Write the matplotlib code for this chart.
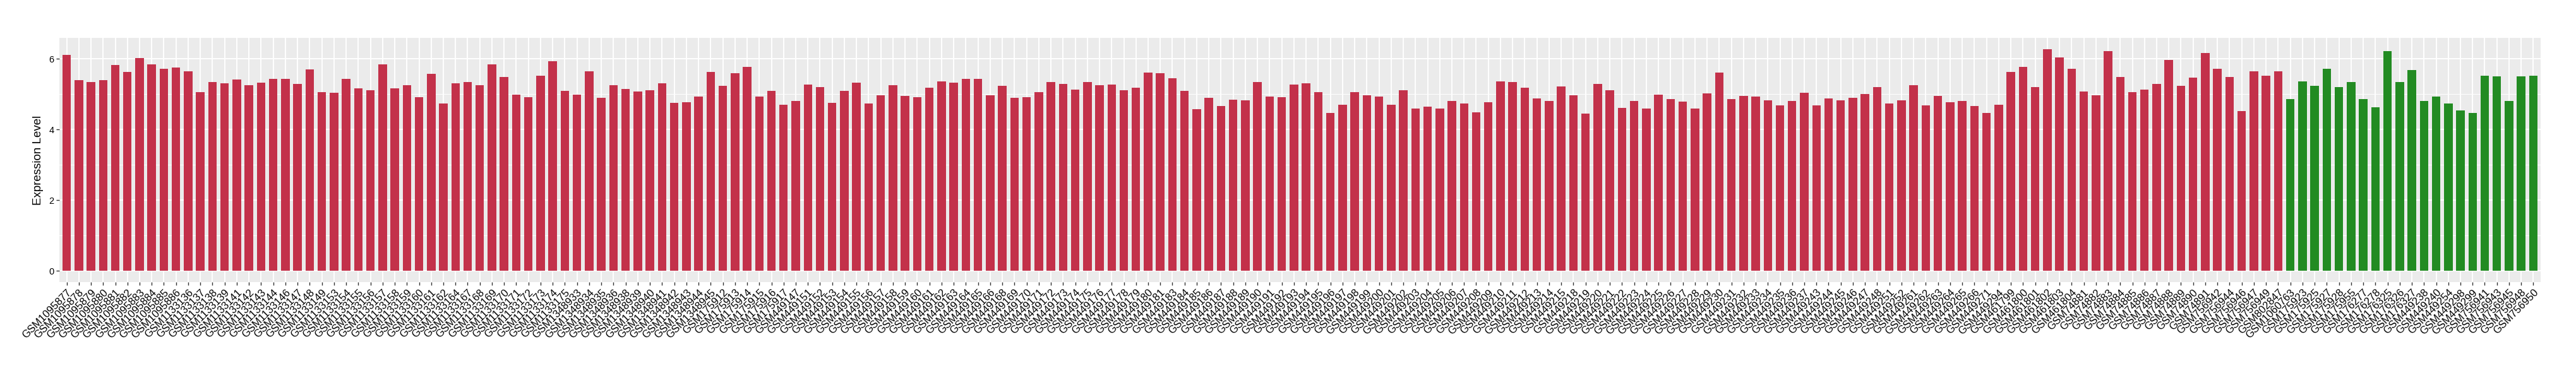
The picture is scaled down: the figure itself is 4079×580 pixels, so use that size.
import matplotlib
matplotlib.use('Agg')
import matplotlib.pyplot as plt
import numpy as np

# muestras del primer grupo (rojo)
muestras_rojo = [
    'GSM1095877', 'GSM1095878', 'GSM1095879', 'GSM1095880', 'GSM1095881', 'GSM1095882', 'GSM1095883',
    'GSM1095884', 'GSM1095885', 'GSM1095886',
    'GSM1133136', 'GSM1133137', 'GSM1133138', 'GSM1133139', 'GSM1133141', 'GSM1133142', 'GSM1133143',
    'GSM1133144', 'GSM1133146', 'GSM1133147', 'GSM1133148', 'GSM1133149', 'GSM1133153', 'GSM1133154',
    'GSM1133155', 'GSM1133156', 'GSM1133157', 'GSM1133158', 'GSM1133159', 'GSM1133160', 'GSM1133161',
    'GSM1133162', 'GSM1133164', 'GSM1133167', 'GSM1133168', 'GSM1133169', 'GSM1133170', 'GSM1133171',
    'GSM1133172', 'GSM1133173', 'GSM1133174', 'GSM1133175',
    'GSM1348933', 'GSM1348934', 'GSM1348935', 'GSM1348936', 'GSM1348938', 'GSM1348939', 'GSM1348940',
    'GSM1348941', 'GSM1348942', 'GSM1348943', 'GSM1348944', 'GSM1348945',
    'GSM175912', 'GSM175913', 'GSM175914', 'GSM175915', 'GSM175916', 'GSM175917',
    'GSM449147', 'GSM449151', 'GSM449152', 'GSM449153', 'GSM449154', 'GSM449155', 'GSM449156',
    'GSM449157', 'GSM449158', 'GSM449159', 'GSM449160', 'GSM449161', 'GSM449162', 'GSM449163',
    'GSM449164', 'GSM449165', 'GSM449166', 'GSM449168', 'GSM449169', 'GSM449170', 'GSM449171',
    'GSM449172', 'GSM449173', 'GSM449174', 'GSM449175', 'GSM449176', 'GSM449177', 'GSM449178',
    'GSM449179', 'GSM449180', 'GSM449181', 'GSM449183', 'GSM449184', 'GSM449185', 'GSM449186',
    'GSM449187', 'GSM449188', 'GSM449189', 'GSM449190', 'GSM449191', 'GSM449192', 'GSM449193',
    'GSM449194', 'GSM449195', 'GSM449196', 'GSM449197', 'GSM449198', 'GSM449199', 'GSM449200',
    'GSM449201', 'GSM449202', 'GSM449203', 'GSM449204', 'GSM449205', 'GSM449206', 'GSM449207',
    'GSM449208', 'GSM449209', 'GSM449210', 'GSM449211', 'GSM449212', 'GSM449213', 'GSM449214',
    'GSM449215', 'GSM449218', 'GSM449219', 'GSM449220', 'GSM449221', 'GSM449222', 'GSM449223',
    'GSM449224', 'GSM449225', 'GSM449226', 'GSM449227', 'GSM449228', 'GSM449229', 'GSM449230',
    'GSM449231', 'GSM449232', 'GSM449233', 'GSM449234', 'GSM449235', 'GSM449236', 'GSM449237',
    'GSM449243', 'GSM449244', 'GSM449245', 'GSM449246', 'GSM449247', 'GSM449248', 'GSM449251',
    'GSM449252', 'GSM449261', 'GSM449262', 'GSM449263', 'GSM449264', 'GSM449265', 'GSM449266',
    'GSM449271', 'GSM449294',
    'GSM461799', 'GSM461800', 'GSM461801', 'GSM461802', 'GSM461803', 'GSM461804',
    'GSM74881', 'GSM74882', 'GSM74883', 'GSM74884', 'GSM74885', 'GSM74886', 'GSM74887',
    'GSM74888', 'GSM74889', 'GSM74890', 'GSM74891',
    'GSM756942', 'GSM756944', 'GSM756946', 'GSM756947', 'GSM756949', 'GSM802847',
]
valores_rojo = [
    6.11, 5.39, 5.35, 5.39, 5.82, 5.63, 6.02, 5.84, 5.72, 5.76,
    5.65, 5.05, 5.35, 5.31, 5.42, 5.25, 5.33, 5.44, 5.44, 5.29,
    5.70, 5.05, 5.04, 5.44, 5.16, 5.12, 5.84, 5.16, 5.26, 4.92,
    5.58, 4.73, 5.31, 5.35, 5.26, 5.84, 5.49, 4.99, 4.91, 5.52,
    5.93, 5.10, 4.99, 5.65, 4.89, 5.26, 5.15, 5.08, 5.12, 5.31,
    4.76, 4.78, 4.94, 5.63, 5.23, 5.59, 5.77, 4.93, 5.10, 4.71,
    4.81, 5.27, 5.20, 4.76, 5.10, 5.32, 4.74, 4.97, 5.25, 4.95,
    4.92, 5.19, 5.36, 5.32, 5.43, 5.43, 4.97, 5.23, 4.90, 4.92,
    5.06, 5.34, 5.29, 5.13, 5.34, 5.25, 5.27, 5.11, 5.19, 5.61,
    5.59, 5.45, 5.10, 4.58, 4.90, 4.67, 4.84, 4.83, 5.34, 4.93,
    4.92, 5.27, 5.31, 5.06, 4.47, 4.71, 5.06, 4.97, 4.93, 4.71,
    5.11, 4.60, 4.65, 4.60, 4.81, 4.73, 4.49, 4.78, 5.36, 5.34,
    5.19, 4.88, 4.81, 5.22, 4.97, 4.46, 5.29, 5.11, 4.62, 4.81,
    4.60, 4.99, 4.86, 4.79, 4.60, 5.02, 5.61, 4.86, 4.95, 4.93,
    4.83, 4.69, 4.81, 5.04, 4.68, 4.88, 4.83, 4.90, 5.01, 5.20,
    4.74, 4.83, 5.25, 4.69, 4.95, 4.78, 4.81, 4.67, 4.47, 4.71,
    5.63, 5.78, 5.20, 6.28, 6.04, 5.71, 5.08, 4.97, 6.21, 5.49,
    5.06, 5.13, 5.29, 5.96, 5.23, 5.47, 6.16, 5.71, 5.49, 4.53,
    5.65, 5.52, 5.65,
]

# muestras del segundo grupo (verde)
muestras_verde = [
    'GSM1060763', 'GSM175923', 'GSM175925', 'GSM175927', 'GSM175928', 'GSM175955', 'GSM176277',
    'GSM176278', 'GSM176325', 'GSM176326', 'GSM176327', 'GSM449238', 'GSM449240', 'GSM449254',
    'GSM449298', 'GSM449299', 'GSM756941', 'GSM756943', 'GSM756945', 'GSM756948', 'GSM756950',
]
valores_verde = [
    4.86, 5.37, 5.23, 5.71, 5.21, 5.35, 4.86, 4.63, 6.22, 5.35, 5.69,
    4.80, 4.94, 4.73, 4.54, 4.47, 5.53, 5.51, 4.80, 5.51, 5.53,
]

color_rojo = '#C3314A'
color_verde = '#228B22'

plt.rcParams['font.family'] = ['Liberation Sans', 'DejaVu Sans']

muestras = muestras_rojo + muestras_verde
valores = valores_rojo + valores_verde
colores = [color_rojo] * len(valores_rojo) + [color_verde] * len(valores_verde)
x = np.arange(len(muestras))

fig = plt.figure(figsize=(40.8, 5.8), dpi=100)
ax = fig.add_axes([0.02304, 0.2293, 0.96299, 0.6673])
ax.set_facecolor('#EBEBEB')
ax.set_axisbelow(True)

ax.bar(x, valores, width=0.7, color=colores, zorder=3)

# rango como ggplot (expansion 5% en y, 0.6 en x)
ymax = max(valores)
ax.set_ylim(-0.05 * ymax, 1.05 * ymax)
ax.set_xlim(-0.6, len(muestras) - 1 + 0.6)

ax.set_yticks([0, 2, 4, 6])
ax.set_yticks([1, 3, 5], minor=True)
ax.set_xticks(x)
ax.set_xticklabels(muestras, rotation=45, ha='right', va='top', rotation_mode='anchor', fontsize=12)

ax.grid(which='major', color='white', linewidth=1.4)
ax.grid(which='minor', axis='y', color='white', linewidth=0.7)
ax.tick_params(which='major', length=3.8, width=1.0, color='#333333', labelsize=10.5, pad=2.5)
ax.tick_params(axis='x', labelsize=12)
ax.tick_params(which='minor', length=0)
for s in ax.spines.values():
    s.set_visible(False)

ax.set_ylabel('Expression Level', fontsize=13.5, labelpad=6)

fig.savefig('out.png', dpi=100, facecolor='white')
